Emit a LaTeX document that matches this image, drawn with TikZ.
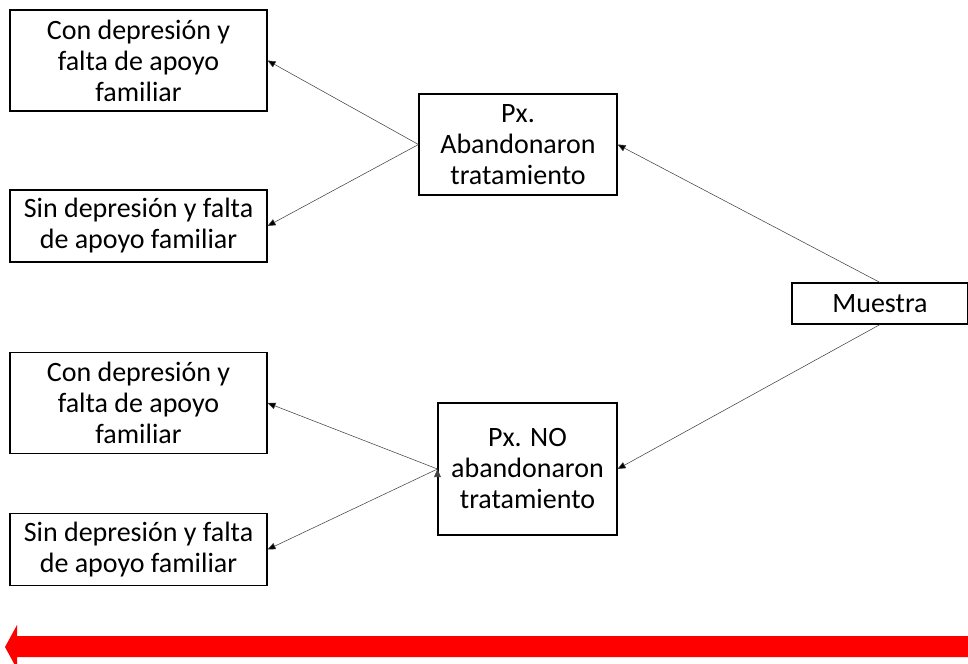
\documentclass[tikz,border=0pt]{standalone}
\usepackage{fontspec}
\setmainfont{Carlito}
\usepackage{tikz}
\usetikzlibrary{arrows.meta}

\begin{document}
\begin{tikzpicture}[x=0.75pt,y=-0.75pt,>={Triangle[length=6pt,width=5pt]},thin,
  caja/.style={draw=black,thick,rectangle,align=center,inner sep=2pt,
    font=\fontsize{21}{23.25}\selectfont},
  flecha/.style={->,draw=black!75,thin}]
\useasboundingbox (0,0) rectangle (968,664);

\node[caja,minimum width=132pt,minimum height=30.75pt] (m) at (880,303.5) {Muestra};
\node[caja,minimum width=148.5pt,minimum height=75.75pt] (p1) at (518,144.5) {Px.\\Abandonaron\\tratamiento};
\node[caja,minimum width=134.25pt,minimum height=99pt] (p2) at (527.5,469) {Px. NO\\abandonaron\\tratamiento};
\node[caja,minimum width=192.75pt,minimum height=75.75pt] (a1) at (138.5,60.5) {Con depresión y\\falta de apoyo\\familiar};
\node[caja,minimum width=192.75pt,minimum height=54pt] (a2) at (138.5,226) {Sin depresión y falta\\de apoyo familiar};
\node[caja,minimum width=192.75pt,minimum height=75.75pt] (b1) at (138.5,403) {Con depresión y\\falta de apoyo\\familiar};
\node[caja,minimum width=192.75pt,minimum height=54pt] (b2) at (138.5,549.5) {Sin depresión y falta\\de apoyo familiar};

\path[flecha] (m.north) edge (p1.east)
      (m.south) edge (p2.east)
      (p1.west) edge (a1.east)
      (p1.west) edge (a2.east)
      (p2.west) edge (b1.east)
      (p2.west) edge (b2.east);

% flecha roja
\begin{scope}
\clip (0,0) rectangle (968,664);
\fill[red] (968,636) -- (17,636) -- (17,625) -- (5,647) -- (17,669) -- (17,657) -- (968,657) -- cycle;
\end{scope}
\end{tikzpicture}
\end{document}
